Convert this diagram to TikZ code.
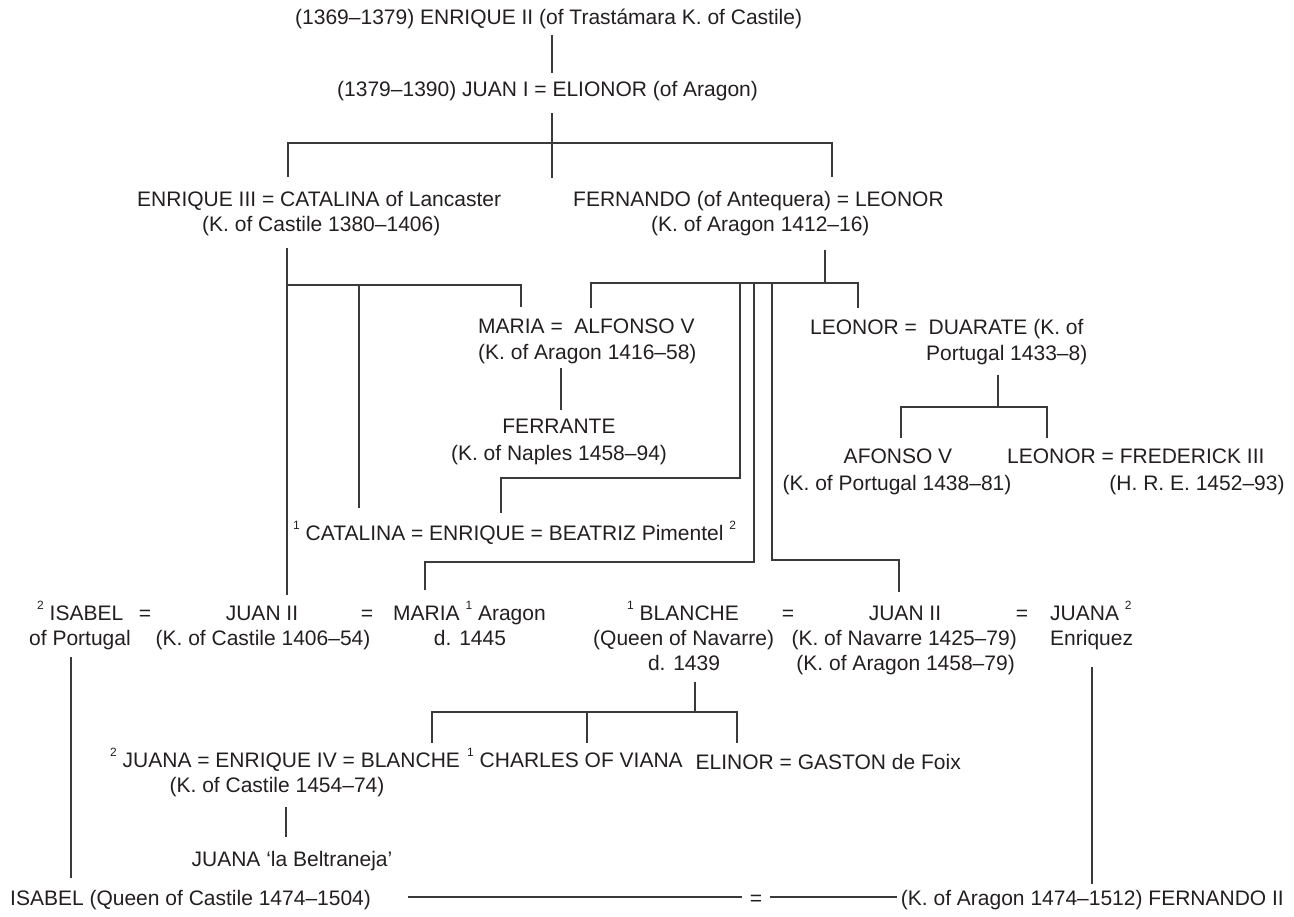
\documentclass[tikz,border=0pt]{standalone}
\usepackage{fontspec}
\setmainfont{Liberation Sans}
\definecolor{ink}{HTML}{231F20}
\definecolor{rule}{HTML}{3A3A3A}
\newcommand\wife[1]{\raisebox{0.52em}{\fontsize{12}{12}\selectfont #1}}
\tikzset{
  who/.style={inner sep=0pt, anchor=base, text=ink, font=\fontsize{21}{25}\selectfont},
  whoL/.style={who, anchor=base west},
  whoR/.style={who, anchor=base east},
  link/.style={draw=rule, line width=1.1pt},
}
\begin{document}
\begin{tikzpicture}[x=1pt,y=-1pt]
\useasboundingbox (0,0) rectangle (1294,917);

% ---- generation I and II
\node[whoL] (enr2)  at (295,25) {(1369–1379) ENRIQUE II (of Trastámara K. of Castile)};
\node[whoL] (juan1) at (337,97) {(1379–1390) JUAN I = ELIONOR (of Aragon)};

% ---- generation III
\node[whoL] (enr3)  at (137,207) {ENRIQUE III = CATALINA of Lancaster};
\node[whoL] (enr3b) at (202,232) {(K. of Castile 1380–1406)};
\node[whoL] (fer)   at (573,207) {FERNANDO (of Antequera) = LEONOR};
\node[whoL] (ferb)  at (651,232) {(K. of Aragon 1412–16)};

% ---- children of Fernando of Antequera
\node[whoL] (alf)   at (478,334) {MARIA =\ \ ALFONSO V};
\node[whoL] (alfb)  at (478,360) {(K. of Aragon 1416–58)};
\node[who]  (ferr)  at (559,434) {FERRANTE};
\node[who]  (ferrb) at (559,460) {(K. of Naples 1458–94)};
\node[whoL] (duar)  at (810,335) {LEONOR =\ \ DUARATE (K. of};
\node[whoL] (duarb) at (926,361) {Portugal 1433–8)};
\node[who]  (afo)   at (898,464) {AFONSO V};
\node[who]  (afob)  at (897,490) {(K. of Portugal 1438–81)};
\node[whoL] (fred)  at (1007,464) {LEONOR = FREDERICK III};
\node[who]  (fredb) at (1197,490) {(H. R. E. 1452–93)};
\node[whoL] (enriq) at (293,540) {\wife{1} CATALINA = ENRIQUE = BEATRIZ Pimentel \wife{2}};

% ---- the two Juans and their wives
\node[whoL] (isa)   at (37,620)  {\wife{2} ISABEL};
\node[who]  (isab)  at (80,645)  {of Portugal};
\node[who]  (eqA)   at (145,620) {=};
\node[who]  (jc)    at (262,620) {JUAN II};
\node[who]  (jcb)   at (263,645) {(K. of Castile 1406–54)};
\node[who]  (eqB)   at (367,620) {=};
\node[whoL] (mar)   at (393,620) {MARIA \wife{1} Aragon};
\node[who]  (marb)  at (470,645) {d. 1445};
\node[whoL] (bla)   at (627,620) {\wife{1} BLANCHE};
\node[whoL] (blab)  at (593,645) {(Queen of Navarre)};
\node[who]  (blac)  at (684,670) {d. 1439};
\node[who]  (eqC)   at (788,620) {=};
\node[who]  (jn)    at (905,620) {JUAN II};
\node[whoR] (jnb)   at (1017,645) {(K. of Navarre 1425–79)};
\node[whoR] (jnc)   at (1015,670) {(K. of Aragon 1458–79)};
\node[who]  (eqD)   at (1022,620) {=};
\node[whoL] (jua)   at (1050,620) {JUANA \wife{2}};
\node[whoL] (juab)  at (1050,645) {Enriquez};

% ---- next generation
\node[whoL] (enr4)  at (110,767) {\wife{2} JUANA = ENRIQUE IV = BLANCHE};
\node[who]  (enr4b) at (277,792) {(K. of Castile 1454–74)};
\node[whoL] (cha)   at ([xshift=1pt]enr4.base east) {\ \wife{1} CHARLES OF VIANA};
\node[whoR] (eli)   at (961,769) {ELINOR = GASTON de Foix};
\node[who]  (belt)  at (292,866) {JUANA ‘la Beltraneja’};

% ---- the Catholic Monarchs
\node[whoL] (isaQ)  at (10,905)   {ISABEL (Queen of Castile 1474–1504)};
\node[who]  (eqE)   at (756,905)  {=};
\node[whoR] (ferK)  at (1284,905) {(K. of Aragon 1474–1512) FERNANDO II};

% ---- connector points
\coordinate (a1) at (552,35);   \coordinate (a2) at (552,73);
\coordinate (b1) at (552,113);  \coordinate (b2) at (552,178);
\coordinate (bL) at (288,143);  \coordinate (bR) at (832,143);
\coordinate (bLd) at (288,177); \coordinate (bRd) at (832,177);
% Enrique III's children
\coordinate (c1) at (287,248);  \coordinate (c2) at (287,595);
\coordinate (cM) at (359,285);  \coordinate (cMd) at (359,508);
\coordinate (cR) at (521,285);  \coordinate (cRd) at (521,307);
% Fernando's children
\coordinate (d1) at (825,250);  \coordinate (d2) at (825,283);
\coordinate (dL) at (591,283);  \coordinate (dLd) at (591,308);
\coordinate (dR) at (858,283);  \coordinate (dRd) at (858,308);
\coordinate (e1) at (740,283);  \coordinate (e2) at (740,478);
\coordinate (e3) at (501,478);  \coordinate (e4) at (501,513);
\coordinate (f1) at (754,283);  \coordinate (f2) at (754,562);
\coordinate (f3) at (425,562);  \coordinate (f4) at (425,590);
\coordinate (g1) at (772,283);  \coordinate (g2) at (772,560);
\coordinate (g3) at (899,560);  \coordinate (g4) at (899,592);
\coordinate (h1) at (561,368);  \coordinate (h2) at (561,410);
% Duarte's children
\coordinate (k1) at (998,375);  \coordinate (k2) at (998,407);
\coordinate (kL) at (901,407);  \coordinate (kLd) at (901,438);
\coordinate (kR) at (1047,407); \coordinate (kRd) at (1047,438);
% Blanche's children
\coordinate (m1) at (695,682);  \coordinate (m2) at (695,712);
\coordinate (mL) at (432,712);  \coordinate (mLd) at (432,743);
\coordinate (mM) at (587,712);  \coordinate (mMd) at (587,743);
\coordinate (mR) at (737,712);  \coordinate (mRd) at (737,743);
\coordinate (n1) at (286,807);  \coordinate (n2) at (286,837);
% descent to Isabel and Fernando
\coordinate (p1) at (71,657);   \coordinate (p2) at (71,878);
\coordinate (q1) at (1092,667); \coordinate (q2) at (1092,884);
\coordinate (r1) at (408,897);  \coordinate (r2) at (742,897);
\coordinate (r3) at (770,897);  \coordinate (r4) at (ferK.west |- r3);

% ---- connectors
\draw[link] (a1) -- (a2);
\draw[link] (b1) -- (b2);
\draw[link] (bLd) -- (bL) -- (bR) -- (bRd);
\draw[link] (c1) -- (c2);
\draw[link] (c1 |- cM) -- (cR) -- (cRd);
\draw[link] (cM) -- (cMd);
\draw[link] (d1) -- (d2);
\draw[link] (dLd) -- (dL) -- (dR) -- (dRd);
\draw[link] (e1) -- (e2) -- (e3) -- (e4);
\draw[link] (f1) -- (f2) -- (f3) -- (f4);
\draw[link] (g1) -- (g2) -- (g3) -- (g4);
\draw[link] (h1) -- (h2);
\draw[link] (k1) -- (k2);
\draw[link] (kLd) -- (kL) -- (kR) -- (kRd);
\draw[link] (m1) -- (m2);
\draw[link] (mLd) -- (mL) -- (mR) -- (mRd);
\draw[link] (mM) -- (mMd);
\draw[link] (n1) -- (n2);
\draw[link] (p1) -- (p2);
\draw[link] (q1) -- (q2);
\draw[link] (r1) -- (r2);
\draw[link] (r3) -- ([xshift=-4pt]r4);
\end{tikzpicture}
\end{document}
